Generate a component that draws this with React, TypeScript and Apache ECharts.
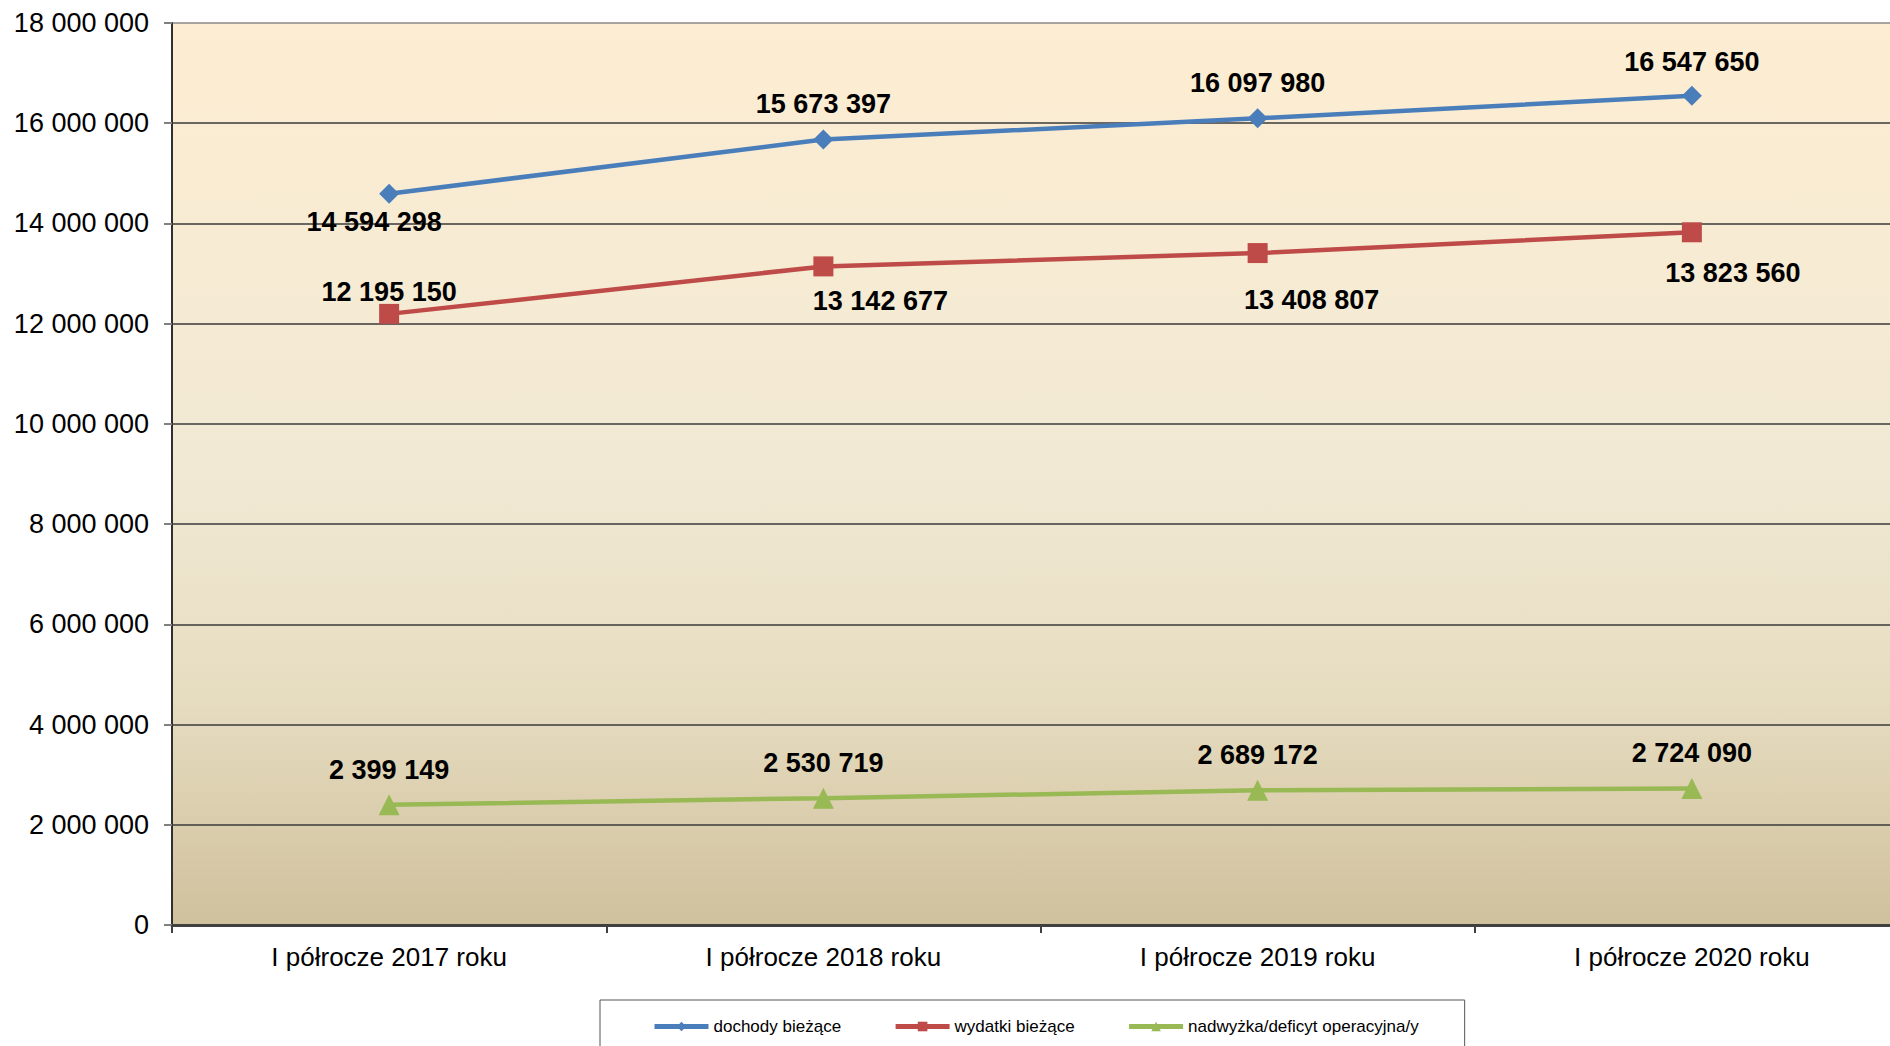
import React, { useEffect, useRef } from "react";
import * as echarts from "echarts";

const categories = [
  "I półrocze 2017 roku",
  "I półrocze 2018 roku",
  "I półrocze 2019 roku",
  "I półrocze 2020 roku",
];
const seriesNames = ["dochody bieżące", "wydatki bieżące", "nadwyżka/deficyt operacyjna/y"];
const dochody = [14594298, 15673397, 16097980, 16547650];
const wydatki = [12195150, 13142677, 13408807, 13823560];
const nadwyzka = [2399149, 2530719, 2689172, 2724090];

const fmt = (v: number) => String(Math.round(v)).replace(/\B(?=(\d{3})+(?!\d))/g, " ");

const FONT = "'Liberation Sans', Arial, sans-serif";

export default function App() {
  const ref = useRef<HTMLDivElement>(null);
  useEffect(() => {
    if (!ref.current) return;
    const chart = echarts.init(ref.current, undefined, { renderer: "svg" });
    const labelBase = {
      show: true,
      fontFamily: FONT,
      fontSize: 27,
      fontWeight: "bold" as const,
      color: "#000",
      formatter: (p: any) => fmt(p.value),
    };
    const blueLabels = [
      { position: "bottom", distance: 5, offset: [-15, 0] },
      { position: "top", distance: 12, offset: [0, 0] },
      { position: "top", distance: 12, offset: [0, 0] },
      { position: "top", distance: 10, offset: [0, 0] },
    ];
    const redLabels = [
      { position: "top", distance: 1, offset: [0, 3] },
      { position: "bottom", distance: 11, offset: [57, 0] },
      { position: "bottom", distance: 23, offset: [54, 0] },
      { position: "bottom", distance: 17, offset: [41, 0] },
    ];
    const greenLabels = [
      { position: "top", distance: 11, offset: [0, 0] },
      { position: "top", distance: 11, offset: [0, 0] },
      { position: "top", distance: 11, offset: [0, 0] },
      { position: "top", distance: 11, offset: [0, 0] },
    ];
    const mk = (vals: number[], labels: any[]) =>
      vals.map((v, i) => ({ value: v, label: labels[i] }));

    const splitColors = [
      "#3a3a3a", "#3a3a3a", "#3a3a3a", "#3a3a3a", "#3a3a3a",
      "#3a3a3a", "#3a3a3a", "#3a3a3a", "#3a3a3a", "#8a8a8a",
    ];

    chart.setOption({
      animation: false,
      grid: {
        left: 172,
        top: 23,
        right: 11,
        bottom: 121,
        show: true,
        borderWidth: 0,
        backgroundColor: new echarts.graphic.LinearGradient(0, 0, 0, 1, [
          { offset: 0, color: "#fdedd2" },
          { offset: 0.5, color: "#f1e9d4" },
          { offset: 0.75, color: "#e6dcc0" },
          { offset: 1, color: "#d0c19d" },
        ]),
      },
      legend: {
        left: 600,
        top: 1000,
        padding: [18, 46, 40, 52],
        borderColor: "#555",
        borderWidth: 1,
        itemGap: 52,
        itemWidth: 54,
        itemHeight: 12,
        lineStyle: { width: 5 },
        textStyle: { fontFamily: FONT, fontSize: 17, color: "#000" },
        data: seriesNames,
      },
      xAxis: {
        type: "category",
        data: categories,
        boundaryGap: true,
        axisLine: { show: true, lineStyle: { color: "#404040", width: 3 } },
        axisTick: { show: true, length: 8, lineStyle: { color: "#404040", width: 2 } },
        axisLabel: { fontFamily: FONT, fontSize: 26, color: "#000", margin: 19 },
        splitLine: { show: false },
      },
      yAxis: {
        type: "value",
        min: 0,
        max: 18000000,
        interval: 2000000,
        axisLine: { show: true, lineStyle: { color: "#303030", width: 2 } },
        axisTick: { show: true, length: 8, lineStyle: { color: "#808080", width: 2 } },
        axisLabel: {
          fontFamily: FONT,
          fontSize: 27,
          color: "#000",
          margin: 23,
          formatter: (v: number) => fmt(v),
        },
        splitLine: { show: true, lineStyle: { color: splitColors, width: 1.5 } },
      },
      series: [
        {
          name: seriesNames[0],
          type: "line",
          data: mk(dochody, blueLabels),
          symbol: "diamond",
          symbolSize: 20,
          lineStyle: { color: "#4a7ebb", width: 4.5 },
          itemStyle: { color: "#4a7ebb" },
          label: labelBase,
          z: 3,
        },
        {
          name: seriesNames[1],
          type: "line",
          data: mk(wydatki, redLabels),
          symbol: "rect",
          symbolSize: 20,
          lineStyle: { color: "#be4b48", width: 4.5 },
          itemStyle: { color: "#be4b48" },
          label: labelBase,
          z: 3,
        },
        {
          name: seriesNames[2],
          type: "line",
          data: mk(nadwyzka, greenLabels),
          symbol: "triangle",
          symbolSize: 21,
          lineStyle: { color: "#98b954", width: 4.5 },
          itemStyle: { color: "#98b954" },
          label: labelBase,
          z: 3,
        },
      ],
    });
    return () => chart.dispose();
  }, []);
  return (
    <div style={{ width: 1890, height: 1046, position: "absolute", left: 0, top: 0, overflow: "hidden", background: "#fff" }}>
      <div ref={ref} style={{ width: 1920, height: 1046, position: "absolute", left: 0, top: 0 }} />
    </div>
  );
}
